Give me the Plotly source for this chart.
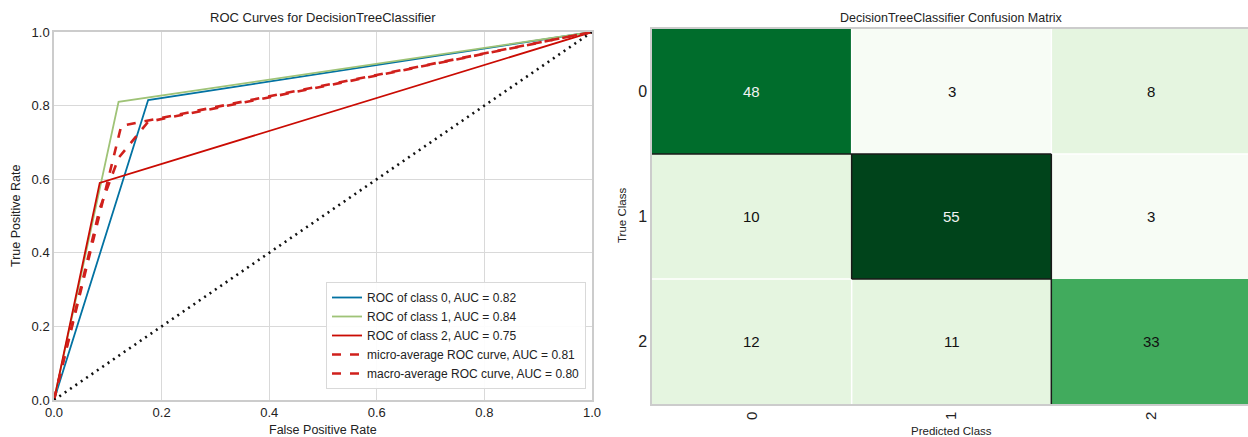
import plotly.graph_objects as go

W, H = 1248, 437

# ROC curve points (false positive rate, true positive rate)
fpr_class0 = [0.0, 0.175, 1.0]
tpr_class0 = [0.0, 0.815, 1.0]
fpr_class1 = [0.0, 0.12, 1.0]
tpr_class1 = [0.0, 0.81, 1.0]
fpr_class2 = [0.0, 0.085, 1.0]
tpr_class2 = [0.0, 0.59, 1.0]
fpr_micro = [0.0, 0.125, 1.0]
tpr_micro = [0.0, 0.745, 1.0]
fpr_macro = [0.0, 0.085, 0.12, 0.175, 1.0]
tpr_macro = [0.0, 0.52, 0.658, 0.756, 1.0]

roc_names = [
    "ROC of class 0, AUC = 0.82",
    "ROC of class 1, AUC = 0.84",
    "ROC of class 2, AUC = 0.75",
    "micro-average ROC curve, AUC = 0.81",
    "macro-average ROC curve, AUC = 0.80",
]

# Confusion matrix (rows = true class, columns = predicted class)
class_labels = ["0", "1", "2"]
confusion = [
    [48, 3, 8],
    [10, 55, 3],
    [12, 11, 33],
]

FONT = "Liberation Sans, Arial, sans-serif"
BLUE, GREEN, RED = "#0272a2", "#9fc377", "#ca0b03"
DASH_RED = "#d0201c"

# Stepped 9-class "Greens" scale
greens = ["#f7fcf5", "#e5f5e0", "#c7e9c0", "#a1d99b", "#74c476",
          "#41ab5d", "#238b45", "#006d2c", "#00441b"]
stepped = []
for i, c in enumerate(greens):
    stepped.append([i / len(greens), c])
    stepped.append([(i + 1) / len(greens), c])


def px_x(p):
    return p / W


def px_y(p):
    return 1 - p / H


fig = go.Figure()

# ---- ROC panel ----
roc_series = [
    (fpr_class0, tpr_class0, BLUE, "solid", 1.8),
    (fpr_class1, tpr_class1, GREEN, "solid", 1.8),
    (fpr_class2, tpr_class2, RED, "solid", 1.8),
    (fpr_micro, tpr_micro, DASH_RED, "dash", 2.6),
    (fpr_macro, tpr_macro, DASH_RED, "dash", 2.6),
]
for (xs, ys, col, dash, w), name in zip(roc_series, roc_names):
    fig.add_trace(go.Scatter(
        x=xs, y=ys, mode="lines", name=name,
        line=dict(color=col, width=w, dash=dash),
        xaxis="x", yaxis="y",
    ))

# chance diagonal
fig.add_trace(go.Scatter(
    x=[0, 1], y=[0, 1], mode="lines", showlegend=False,
    line=dict(color="#111111", width=2.6, dash="2px,4.5px"),
    xaxis="x", yaxis="y",
))

# ---- Confusion matrix panel ----
zmax = max(max(r) for r in confusion)
fig.add_trace(go.Heatmap(
    z=confusion, x=[0, 1, 2], y=[0, 1, 2],
    colorscale=stepped, zmin=0, zmax=zmax,
    showscale=False, xaxis="x2", yaxis="y2", hoverinfo="z",
))

annotations = []
for r, row in enumerate(confusion):
    for c, v in enumerate(row):
        annotations.append(dict(
            x=c, y=r, xref="x2", yref="y2", text=str(v), showarrow=False,
            font=dict(family=FONT, size=15,
                      color="#f2f2f2" if v / zmax > 0.8 else "#111111"),
        ))

# cell edge lines
white_edges = [
    ((-0.5, 1.5), (0.5, 1.5)),
    ((0.5, 1.5), (0.5, 2.5)),
    ((1.5, 0.5), (2.5, 0.5)),
    ((1.5, -0.5), (1.5, 0.5)),
    ((0.5, -0.5), (0.5, 0.5)),
]
dark_edges = [
    ((-0.5, 0.5), (1.5, 0.5)),
    ((0.5, 0.5), (0.5, 1.5)),
    ((0.5, 1.5), (1.5, 1.5)),
    ((1.5, 0.5), (1.5, 2.5)),
]
shapes = []
for (x0, y0), (x1, y1) in white_edges:
    shapes.append(dict(type="line", xref="x2", yref="y2", x0=x0, y0=y0,
                       x1=x1, y1=y1, line=dict(color="white", width=1.5)))
for (x0, y0), (x1, y1) in dark_edges:
    shapes.append(dict(type="line", xref="x2", yref="y2", x0=x0, y0=y0,
                       x1=x1, y1=y1, line=dict(color="#1a1a1a", width=1.5)))


def label(text, x, y, size, angle=0):
    return dict(text=text, x=px_x(x), y=px_y(y), xref="paper", yref="paper",
                xanchor="center", yanchor="middle", textangle=angle,
                showarrow=False,
                font=dict(family=FONT, size=size, color="#222222"))


annotations += [
    label("ROC Curves for DecisionTreeClassifier", 323, 18, 13),
    label("False Positive Rate", 323, 430, 12.5),
    label("True Positive Rate", 16, 216, 12.5, -90),
    label("DecisionTreeClassifier Confusion Matrix", 951, 18, 12.5),
    label("Predicted Class", 951, 431, 11.5),
    label("True Class", 622, 216, 11.5, -90),
]

tick_font = dict(family=FONT, size=13, color="#222222")

fig.update_layout(
    width=W, height=H, autosize=False,
    margin=dict(l=0, r=0, t=0, b=0, autoexpand=False),
    paper_bgcolor="white", plot_bgcolor="white",
    font=dict(family=FONT),
    showlegend=True,
    legend=dict(
        x=px_x(586), y=px_y(389), xanchor="right", yanchor="bottom",
        bgcolor="rgba(255,255,255,0.9)", bordercolor="#d9d9d9", borderwidth=1,
        font=dict(family=FONT, size=12, color="#222222"),
        itemwidth=30, tracegroupgap=0,
    ),
    xaxis=dict(
        domain=[px_x(54), px_x(592)], range=[0, 1], anchor="y",
        tickvals=[0, 0.2, 0.4, 0.6, 0.8, 1.0],
        ticktext=["0.0", "0.2", "0.4", "0.6", "0.8", "1.0"],
        showgrid=True, gridcolor="#d9d9d9", gridwidth=1.3,
        showline=True, linecolor="#cccccc", linewidth=1.5, mirror=True,
        zeroline=False, ticks="", tickfont=tick_font, automargin=False,
    ),
    yaxis=dict(
        domain=[px_y(400), px_y(32)], range=[0, 1], anchor="x",
        tickvals=[0, 0.2, 0.4, 0.6, 0.8, 1.0],
        ticktext=["0.0", "0.2", "0.4", "0.6", "0.8", "1.0"],
        showgrid=True, gridcolor="#d9d9d9", gridwidth=1.3,
        showline=True, linecolor="#cccccc", linewidth=1.5, mirror=True,
        zeroline=False, ticks="", tickfont=tick_font, automargin=False,
    ),
    xaxis2=dict(
        domain=[px_x(652), 1.0], range=[-0.5, 2.485], anchor="y2",
        tickvals=[0, 1, 2], ticktext=class_labels, tickangle=-90,
        showgrid=False, zeroline=False, ticks="", automargin=False,
        showline=True, linecolor="#cccccc", linewidth=1.5, mirror=True,
        tickfont=dict(family=FONT, size=15, color="#222222"),
    ),
    yaxis2=dict(
        domain=[px_y(404), px_y(29)], range=[2.5, -0.5], anchor="x2",
        tickvals=[0, 1, 2], ticktext=class_labels, automargin=False,
        showgrid=False, zeroline=False, ticks="",
        showline=True, linecolor="#cccccc", linewidth=1.5, mirror=True,
        tickfont=dict(family=FONT, size=16, color="#222222"),
    ),
    annotations=annotations,
    shapes=shapes,
)

page_setup = (
    "document.body.style.margin='0';"
    "document.body.style.overflow='hidden';"
    "var gd=document.getElementById('{plot_id}');"
    "Plotly.relayout(gd,{width:%d,height:%d});" % (W, H)
)

fig.write_html("out.html", post_script=page_setup)
